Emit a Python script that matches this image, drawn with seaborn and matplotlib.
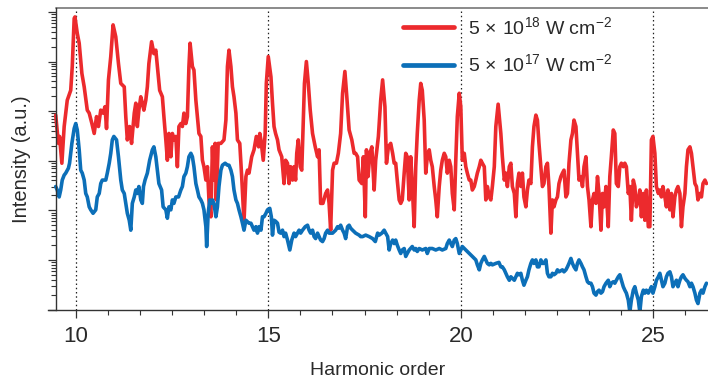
import numpy as np
import pandas as pd
import matplotlib
matplotlib.use("Agg")
import matplotlib.pyplot as plt
import seaborn as sns
from matplotlib.ticker import MultipleLocator, LogLocator, NullFormatter, FixedLocator

# ---------------- data (harmonic order, log10 intensity in a.u.) ----------------
red_x = [9.48, 9.55, 9.58, 9.64, 9.70, 9.78, 9.87, 9.91, 9.96, 9.98, 10.04, 10.09, 10.16, 10.22, 10.30,
         10.35, 10.42, 10.48, 10.54, 10.59, 10.65, 10.71, 10.76, 10.80, 10.85, 10.91, 10.97, 11.04, 11.11,
         11.17, 11.26, 11.30, 11.34, 11.40, 11.45, 11.52, 11.56, 11.60, 11.64, 11.69, 11.73, 11.77, 11.82,
         11.86, 11.90, 11.97, 12.03, 12.08, 12.12, 12.18, 12.25, 12.29, 12.34, 12.38, 12.42, 12.47, 12.51,
         12.55, 12.60, 12.64, 12.68, 12.73, 12.77, 12.81, 12.86, 12.90, 12.94, 12.97, 13.03, 13.07, 13.12,
         13.16, 13.20, 13.25, 13.29, 13.33, 13.38, 13.42, 13.46, 13.51, 13.55, 13.58, 13.62, 13.65, 13.70,
         13.77, 13.85, 13.90, 13.94, 13.98, 14.03, 14.07, 14.11, 14.16, 14.20, 14.26, 14.31, 14.37, 14.42,
         14.46, 14.50, 14.57, 14.63, 14.69, 14.75, 14.78, 14.81, 14.87, 14.92, 14.95, 15.00, 15.07, 15.11,
         15.15, 15.19, 15.24, 15.28, 15.35, 15.41, 15.45, 15.50, 15.54, 15.58, 15.63, 15.67, 15.71, 15.74,
         15.78, 15.83, 15.87, 15.90, 15.94, 15.99, 16.04, 16.09, 16.15, 16.22, 16.28, 16.32, 16.36, 16.42,
         16.49, 16.54, 16.58, 16.62, 16.67, 16.71, 16.77, 16.82, 16.88, 16.93, 16.99, 17.04, 17.10, 17.17,
         17.23, 17.27, 17.32, 17.36, 17.43, 17.47, 17.52, 17.55, 17.59, 17.64, 17.69, 17.75, 17.79, 17.86,
         17.92, 17.97, 18.03, 18.07, 18.12, 18.18, 18.23, 18.27, 18.31, 18.35, 18.40, 18.44, 18.48, 18.53,
         18.57, 18.61, 18.66, 18.70, 18.74, 18.79, 18.83, 18.87, 18.92, 18.96, 19.00, 19.05, 19.09, 19.13,
         19.18, 19.22, 19.26, 19.31, 19.35, 19.39, 19.44, 19.48, 19.52, 19.57, 19.61, 19.65, 19.70, 19.74,
         19.78, 19.83, 19.87, 19.91, 19.96, 20.00, 20.04, 20.09, 20.13, 20.17, 20.22, 20.26, 20.30, 20.35,
         20.39, 20.43, 20.48, 20.52, 20.56, 20.61, 20.65, 20.69, 20.74, 20.78, 20.82, 20.87, 20.91, 20.97,
         21.04, 21.08, 21.13, 21.17, 21.21, 21.26, 21.30, 21.34, 21.39, 21.43, 21.47, 21.51, 21.56, 21.60,
         21.64, 21.69, 21.73, 21.77, 21.82, 21.86, 21.90, 21.95, 21.99, 22.03, 22.08, 22.12, 22.16, 22.21,
         22.25, 22.29, 22.34, 22.38, 22.42, 22.47, 22.51, 22.55, 22.60, 22.64, 22.68, 22.73, 22.77, 22.81,
         22.86, 22.90, 22.94, 22.99, 23.03, 23.07, 23.12, 23.16, 23.20, 23.25, 23.29, 23.33, 23.38, 23.42,
         23.46, 23.51, 23.55, 23.59, 23.64, 23.68, 23.72, 23.77, 23.83, 23.87, 23.91, 23.96, 24.00, 24.04,
         24.09, 24.13, 24.17, 24.22, 24.26, 24.30, 24.35, 24.39, 24.43, 24.48, 24.52, 24.56, 24.61, 24.65,
         24.69, 24.74, 24.78, 24.82, 24.87, 24.91, 24.95, 24.99, 25.04, 25.08, 25.13, 25.17, 25.21, 25.25,
         25.30, 25.34, 25.38, 25.43, 25.47, 25.51, 25.56, 25.60, 25.64, 25.69, 25.73, 25.77, 25.82, 25.86,
         25.90, 25.95, 25.99, 26.03, 26.08, 26.12, 26.16, 26.21, 26.25, 26.29, 26.34, 26.38]
red_log = [3.92, 3.35, 3.49, 2.95, 3.69, 4.22, 4.42, 4.90, 5.87, 5.90, 5.57, 5.37, 4.76, 4.49, 4.02,
           3.96, 3.75, 3.55, 3.89, 3.69, 4.02, 3.96, 4.09, 3.65, 4.63, 5.10, 5.74, 5.50, 4.96,
           4.56, 4.49, 3.89, 3.42, 3.69, 3.35, 3.96, 4.16, 3.69, 4.02, 4.29, 4.16, 4.02, 4.22,
           4.49, 4.96, 5.40, 5.16, 5.23, 4.90, 4.42, 4.29, 3.89, 3.42, 3.01, 3.55, 3.08, 3.55,
           3.42, 3.49, 2.88, 3.69, 3.75, 3.69, 3.96, 3.75, 3.89, 4.90, 5.37, 4.90, 4.83, 4.22,
           3.89, 3.55, 3.49, 3.01, 2.88, 2.61, 2.88, 2.21, 1.87, 3.28, 2.61, 3.35, 2.21, 3.35,
           3.35, 3.42, 3.82, 4.90, 5.23, 4.90, 4.49, 4.29, 3.96, 3.42, 3.35, 2.68, 1.77, 2.68,
           2.81, 2.75, 3.08, 3.22, 3.49, 3.28, 3.55, 3.42, 3.01, 3.55, 4.56, 5.10, 4.69, 4.16,
           3.69, 3.55, 3.42, 3.22, 3.08, 2.54, 3.01, 2.95, 2.54, 2.88, 2.61, 2.88, 2.61, 3.15,
           3.42, 2.88, 2.81, 3.55, 4.56, 5.00, 4.56, 4.02, 3.55, 3.28, 3.08, 3.22, 2.14, 2.14,
           2.34, 2.41, 2.14, 1.60, 2.81, 2.95, 2.95, 3.15, 3.55, 4.36, 4.80, 4.29, 3.62, 3.42,
           3.15, 3.15, 3.08, 2.61, 2.54, 3.08, 1.87, 3.22, 2.68, 3.15, 3.28, 2.41, 3.01, 3.49,
           4.22, 4.63, 4.09, 2.95, 3.28, 3.35, 3.15, 2.95, 2.95, 2.61, 2.21, 2.14, 2.21, 2.75,
           3.15, 3.08, 2.21, 3.08, 2.48, 1.67, 2.88, 3.55, 4.22, 4.56, 4.42, 3.82, 2.75, 3.08,
           3.22, 3.01, 2.88, 2.48, 2.21, 1.87, 2.48, 2.81, 3.01, 3.15, 3.08, 2.75, 3.01, 2.88,
           2.34, 2.01, 3.01, 3.89, 4.36, 4.09, 3.01, 3.15, 2.88, 2.75, 2.61, 2.61, 2.41, 2.48,
           2.61, 2.75, 2.88, 3.01, 2.95, 2.88, 2.21, 2.48, 2.27, 2.21, 2.48, 2.88, 3.69, 4.14,
           3.55, 3.08, 2.61, 2.75, 2.48, 2.88, 2.95, 2.48, 2.34, 1.87, 2.54, 2.75, 2.48, 2.75,
           2.27, 2.07, 2.41, 2.61, 2.54, 3.28, 3.69, 3.92, 3.82, 3.35, 2.88, 2.48, 2.54, 2.88,
           2.95, 2.48, 1.54, 2.21, 2.07, 2.21, 2.27, 2.54, 2.68, 2.75, 2.81, 2.27, 2.34, 2.95,
           3.42, 3.55, 3.82, 3.69, 3.15, 2.61, 2.68, 2.48, 2.88, 3.08, 2.48, 2.21, 1.67, 2.21,
           2.34, 2.14, 2.68, 2.34, 1.60, 2.34, 2.07, 2.48, 1.67, 2.68, 3.08, 3.62, 3.55, 2.54,
           2.48, 2.88, 2.95, 2.88, 2.95, 2.88, 2.34, 2.48, 1.80, 2.61, 2.48, 2.07, 2.21, 2.41,
           1.87, 2.34, 1.80, 2.41, 1.67, 1.67, 3.42, 3.49, 3.15, 2.48, 2.34, 2.41, 2.27, 2.48,
           2.27, 2.07, 2.41, 2.01, 2.34, 1.87, 2.27, 2.41, 2.48, 2.34, 1.67, 2.07, 2.34, 2.88,
           3.22, 3.28, 3.15, 2.88, 2.54, 2.48, 2.21, 2.34, 2.27, 2.54, 2.61, 2.54]

blue_x = [9.48, 9.52, 9.57, 9.61, 9.65, 9.70, 9.74, 9.81, 9.84, 9.90, 9.96, 10.00, 10.04, 10.09, 10.13,
          10.17, 10.22, 10.26, 10.30, 10.35, 10.39, 10.45, 10.52, 10.56, 10.61, 10.65, 10.69, 10.78, 10.82,
          10.87, 10.91, 10.95, 10.99, 11.06, 11.11, 11.17, 11.21, 11.26, 11.30, 11.34, 11.39, 11.43, 11.47,
          11.52, 11.56, 11.60, 11.64, 11.69, 11.73, 11.76, 11.80, 11.86, 11.92, 11.99, 12.03, 12.08, 12.12,
          12.16, 12.23, 12.27, 12.34, 12.38, 12.42, 12.47, 12.51, 12.55, 12.60, 12.67, 12.73, 12.77, 12.81,
          12.86, 12.90, 12.94, 12.99, 13.03, 13.07, 13.12, 13.16, 13.20, 13.25, 13.29, 13.33, 13.38, 13.40,
          13.44, 13.48, 13.52, 13.55, 13.59, 13.64, 13.68, 13.72, 13.77, 13.81, 13.88, 13.94, 13.98, 14.03,
          14.07, 14.11, 14.16, 14.20, 14.24, 14.29, 14.33, 14.37, 14.42, 14.46, 14.50, 14.55, 14.59, 14.63,
          14.68, 14.72, 14.76, 14.81, 14.85, 14.89, 14.94, 14.98, 15.04, 15.08, 15.11, 15.15, 15.19, 15.24,
          15.28, 15.32, 15.37, 15.41, 15.45, 15.50, 15.56, 15.61, 15.67, 15.71, 15.76, 15.80, 15.84, 15.89,
          15.96, 16.02, 16.06, 16.10, 16.15, 16.19, 16.23, 16.28, 16.32, 16.36, 16.41, 16.45, 16.49, 16.54,
          16.58, 16.67, 16.75, 16.80, 16.84, 16.88, 16.93, 16.97, 17.01, 17.06, 17.10, 17.14, 17.19, 17.27,
          17.36, 17.40, 17.45, 17.53, 17.62, 17.71, 17.78, 17.84, 17.88, 17.95, 18.01, 18.05, 18.10, 18.14,
          18.18, 18.23, 18.27, 18.31, 18.35, 18.40, 18.44, 18.48, 18.53, 18.57, 18.61, 18.66, 18.74, 18.79,
          18.83, 18.87, 18.92, 19.00, 19.09, 19.13, 19.18, 19.26, 19.35, 19.44, 19.52, 19.61, 19.65, 19.70,
          19.74, 19.78, 19.83, 19.87, 19.91, 19.96, 20.00, 20.04, 20.09, 20.13, 20.17, 20.22, 20.26, 20.30,
          20.35, 20.39, 20.43, 20.48, 20.52, 20.56, 20.61, 20.65, 20.69, 20.74, 20.78, 20.82, 20.91, 20.99,
          21.04, 21.08, 21.13, 21.17, 21.21, 21.26, 21.30, 21.34, 21.39, 21.43, 21.47, 21.51, 21.56, 21.60,
          21.64, 21.69, 21.73, 21.77, 21.82, 21.86, 21.90, 21.95, 21.99, 22.03, 22.08, 22.12, 22.16, 22.21,
          22.25, 22.29, 22.34, 22.38, 22.42, 22.47, 22.51, 22.55, 22.64, 22.68, 22.73, 22.77, 22.81, 22.86,
          22.90, 22.94, 22.99, 23.03, 23.07, 23.12, 23.16, 23.20, 23.25, 23.29, 23.33, 23.38, 23.42, 23.46,
          23.51, 23.55, 23.59, 23.64, 23.68, 23.72, 23.77, 23.83, 23.87, 23.91, 23.96, 24.00, 24.04, 24.09,
          24.13, 24.17, 24.22, 24.26, 24.30, 24.35, 24.39, 24.43, 24.48, 24.52, 24.56, 24.61, 24.65, 24.69,
          24.74, 24.78, 24.82, 24.87, 24.91, 24.95, 24.99, 25.04, 25.08, 25.13, 25.17, 25.21, 25.25, 25.30,
          25.34, 25.38, 25.43, 25.47, 25.51, 25.56, 25.60, 25.64, 25.69, 25.73, 25.77, 25.82, 25.86, 25.90,
          25.95, 25.99, 26.03, 26.08, 26.12, 26.16, 26.21, 26.25, 26.29, 26.34, 26.38]
blue_log = [2.48, 2.41, 2.27, 2.41, 2.61, 2.71, 2.75, 2.85, 2.95, 3.35, 3.65, 3.75, 3.62, 3.22, 2.81,
            2.75, 2.61, 2.34, 2.27, 2.07, 2.01, 1.94, 2.01, 2.27, 2.34, 2.54, 2.61, 2.61, 2.75,
            2.95, 3.15, 3.42, 3.49, 3.42, 3.08, 2.61, 2.41, 2.34, 2.14, 1.94, 1.80, 1.60, 2.14,
            2.27, 2.41, 2.34, 2.48, 2.21, 2.14, 2.48, 2.61, 2.75, 3.01, 3.22, 3.28, 3.08, 2.81,
            2.54, 2.41, 2.07, 2.01, 1.84, 2.07, 2.01, 2.21, 2.14, 2.27, 2.27, 2.41, 2.48, 2.68,
            2.75, 2.88, 3.08, 3.15, 3.08, 2.88, 2.54, 2.41, 2.27, 2.21, 2.14, 2.01, 1.67, 1.27,
            1.94, 2.21, 2.14, 2.21, 2.14, 1.87, 2.07, 2.48, 2.81, 2.91, 2.95, 2.91, 2.91, 2.81,
            2.68, 2.41, 2.21, 2.14, 2.01, 1.87, 1.74, 1.60, 1.80, 1.77, 1.74, 1.74, 1.67, 1.60,
            1.67, 1.54, 1.67, 1.60, 1.87, 1.87, 1.94, 2.01, 2.04, 1.87, 1.50, 1.80, 1.78, 1.74,
            1.56, 1.54, 1.60, 1.47, 1.54, 1.40, 1.20, 1.40, 1.54, 1.47, 1.54, 1.60, 1.54, 1.60,
            1.67, 1.70, 1.60, 1.54, 1.60, 1.47, 1.43, 1.54, 1.47, 1.40, 1.37, 1.43, 1.54, 1.60,
            1.54, 1.54, 1.60, 1.67, 1.64, 1.70, 1.60, 1.54, 1.43, 1.67, 1.70, 1.64, 1.60, 1.54,
            1.50, 1.47, 1.47, 1.50, 1.47, 1.43, 1.37, 1.54, 1.50, 1.54, 1.60, 1.54, 1.47, 1.20,
            1.33, 1.40, 1.33, 1.40, 1.30, 1.20, 1.13, 1.20, 1.23, 1.07, 1.13, 1.20, 1.27, 1.20,
            1.23, 1.17, 1.23, 1.20, 1.23, 1.13, 1.23, 1.23, 1.20, 1.23, 1.20, 1.23, 1.33, 1.40,
            1.33, 1.27, 1.40, 1.43, 1.33, 1.13, 1.20, 1.27, 1.23, 1.20, 1.17, 1.13, 1.10, 1.07,
            1.03, 1.00, 0.90, 0.80, 0.93, 1.00, 1.07, 1.00, 0.93, 0.90, 0.93, 0.90, 0.93, 0.95,
            0.86, 0.86, 0.80, 0.73, 0.66, 0.59, 0.66, 0.63, 0.59, 0.66, 0.73, 0.70, 0.73, 0.59,
            0.49, 0.59, 0.66, 0.80, 0.93, 1.00, 0.93, 1.00, 0.86, 0.86, 1.00, 0.93, 0.93, 1.00,
            0.73, 0.66, 0.66, 0.73, 0.70, 0.73, 0.80, 0.76, 0.80, 0.76, 0.80, 0.86, 0.93, 1.03,
            0.93, 0.86, 0.80, 0.93, 1.00, 0.93, 0.86, 0.80, 0.66, 0.56, 0.53, 0.53, 0.46, 0.33,
            0.29, 0.36, 0.39, 0.33, 0.36, 0.46, 0.53, 0.59, 0.46, 0.53, 0.56, 0.53, 0.59, 0.66,
            0.70, 0.59, 0.46, 0.39, 0.33, 0.19, -0.05, 0.19, 0.39, 0.46, 0.33, 0.19, -0.05, 0.26,
            0.39, 0.33, 0.39, 0.33, 0.39, 0.46, 0.33, 0.46, 0.59, 0.66, 0.73, 0.59, 0.46, 0.53,
            0.66, 0.73, 0.76, 0.66, 0.46, 0.53, 0.59, 0.46, 0.59, 0.66, 0.70, 0.63, 0.59, 0.56,
            0.46, 0.53, 0.46, 0.33, 0.19, 0.12, 0.33, 0.39, 0.33, 0.46, 0.53]

series_labels = [r"5$\,\times\,$10$^{18}$ W cm$^{-2}$", r"5$\,\times\,$10$^{17}$ W cm$^{-2}$"]
series_colors = ["#ec2a2d", "#0c6fb8"]
harmonic_marks = [10, 15, 20, 25]
x_range = (9.28, 26.42)
spine_x = 9.49
y_range = (1.0, 10 ** 6.08)

# ---------------- style ----------------
sns.set_style("ticks")
fam = ["Liberation Sans", "DejaVu Sans"]
plt.rcParams["font.family"] = fam
plt.rcParams["mathtext.fontset"] = "custom"
plt.rcParams["mathtext.rm"] = "Liberation Sans"
plt.rcParams["mathtext.it"] = "Liberation Sans:italic"
plt.rcParams["mathtext.default"] = "regular"
plt.rcParams["axes.unicode_minus"] = True

df = pd.concat([
    pd.DataFrame({"x": red_x, "I": np.power(10.0, red_log), "s": series_labels[0]}),
    pd.DataFrame({"x": blue_x, "I": np.power(10.0, blue_log), "s": series_labels[1]}),
], ignore_index=True)

fig = plt.figure(figsize=(7.08, 3.80), dpi=100)
ax = fig.add_axes([48 / 708, 70.5 / 380, 660 / 708, 301.5 / 380])

sns.lineplot(data=df, x="x", y="I", hue="s", palette=series_colors, estimator=None,
             sort=False, lw=2.6, ax=ax, legend=True)
ax.set_yscale("log")
ax.set_xlim(*x_range)
ax.set_ylim(*y_range)

for h in harmonic_marks:
    ax.axvline(h, color="#222222", lw=0.9, ls=(0, (1.2, 2.2)), zorder=0)

# spines
ax.spines["right"].set_visible(False)
ax.spines["top"].set_visible(False)
ax.spines["left"].set_position(("data", spine_x))
for s in ["left", "bottom"]:
    ax.spines[s].set_color("#333333")
    ax.spines[s].set_linewidth(1.0)
ax.axhline(y_range[1], xmin=(spine_x - x_range[0]) / (x_range[1] - x_range[0]), xmax=1,
           color="#8a8a8a", lw=1.4, clip_on=False)

# ticks
ax.xaxis.set_major_locator(FixedLocator(harmonic_marks))
ax.xaxis.set_minor_locator(MultipleLocator(5 / 6))
ax.yaxis.set_major_locator(LogLocator(base=10, numticks=10))
ax.yaxis.set_minor_locator(LogLocator(base=10, subs=np.arange(2, 10), numticks=100))
ax.yaxis.set_major_formatter(NullFormatter())
ax.yaxis.set_minor_formatter(NullFormatter())
ax.tick_params(axis="both", which="major", direction="out", length=6, width=0.9,
               color="#333333", labelcolor="#2a2a2a", labelsize=16, pad=6)
ax.tick_params(axis="both", which="minor", direction="out", length=3.8, width=0.8,
               color="#333333")

ax.set_xlabel("Harmonic order", fontsize=14, color="#2a2a2a", labelpad=11)
ax.set_ylabel("Intensity (a.u.)", fontsize=14.5, color="#2a2a2a", labelpad=6)

leg = ax.legend(loc="upper left", bbox_to_anchor=((403 - 48) / 660, 0.973), frameon=False,
                fontsize=14, handlelength=2.6, handletextpad=0.75, labelspacing=0.8,
                borderpad=0, borderaxespad=0)
for t in leg.get_texts():
    t.set_color("#2a2a2a")
for l in leg.get_lines():
    l.set_linewidth(3.4)

fig.savefig("out.png", dpi=100)
